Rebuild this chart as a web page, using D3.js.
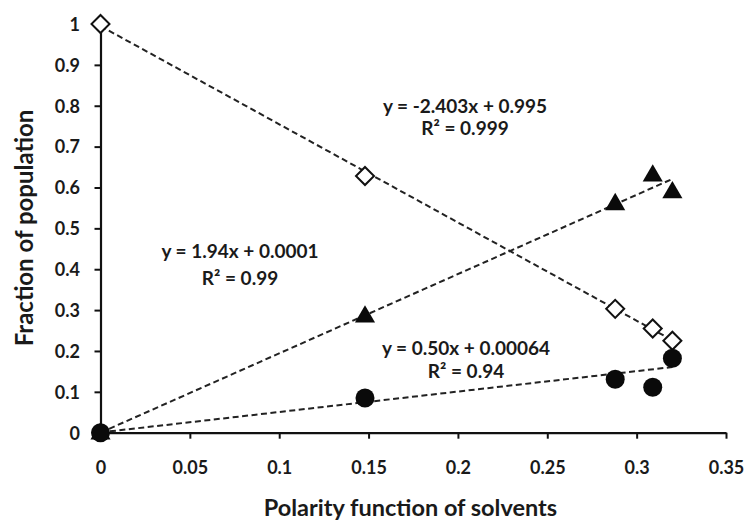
<!DOCTYPE html>
<html>
<head>
<meta charset="utf-8">
<script src="https://cdn.jsdelivr.net/npm/d3@7/dist/d3.min.js"></script>
<style>
  html, body { margin: 0; padding: 0; background: #ffffff; }
  svg { display: block; }
  text { font-family: Lato, "Open Sans", sans-serif; font-weight: bold; fill: #1a1a1a; }
</style>
</head>
<body>
<svg id="chart" width="744" height="521"></svg>
<script>
// ---- Data ----
const polarity = [0, 0.148, 0.288, 0.309, 0.320];
const diamondSeries = [1.0, 0.628, 0.303, 0.255, 0.225];
const triangleSeries = [0.0, 0.286, 0.561, 0.631, 0.590];
const circleSeries = [0.0, 0.085, 0.131, 0.111, 0.182];

const trendSlopes = [-2.403, 1.94, 0.50];
const trendIntercepts = [0.995, 0.0001, 0.00064];
const trendRange = [0, 0.32];

const eqLines = ["y = -2.403x + 0.995", "y = 1.94x + 0.0001", "y = 0.50x + 0.00064"];
const r2Lines = ["0.999", "0.99", "0.94"];

const xTicks = [0, 0.05, 0.1, 0.15, 0.2, 0.25, 0.3, 0.35];
const yTicks = [0, 0.1, 0.2, 0.3, 0.4, 0.5, 0.6, 0.7, 0.8, 0.9, 1];

const xTitle = "Polarity function of solvents";
const yTitle = "Fraction of population";

// ---- Layout ----
const svg = d3.select("#chart");
const x = d3.scaleLinear().domain([0, 0.35]).range([100.5, 726]);
const y = d3.scaleLinear().domain([0, 1]).range([432.7, 24]);

// Axes
const fmt = d => d === 0 ? "0" : String(d);
const xAxis = d3.axisBottom(x).tickValues(xTicks).tickSize(6).tickSizeOuter(0).tickFormat(fmt);
const yAxis = d3.axisLeft(y).tickValues(yTicks).tickSize(6).tickSizeOuter(0).tickFormat(fmt);

const gx = svg.append("g").attr("transform", `translate(0,${y(0)})`).call(xAxis);
const gy = svg.append("g").attr("transform", `translate(${x(0)},0)`).call(yAxis);

[gx, gy].forEach(g => {
  g.select(".domain").attr("stroke", "#111").attr("stroke-width", 2.2);
  g.selectAll(".tick line").attr("stroke", "#111").attr("stroke-width", 2);
  g.selectAll(".tick text").style("font-family", "Lato, 'Open Sans', sans-serif")
    .style("font-weight", "bold").style("font-size", "18px").attr("fill", "#222");
});
gx.selectAll(".tick text").attr("dy", null).attr("y", 41.8);
gy.selectAll(".tick text").attr("x", -20.5).attr("dy", "0.35em");

// Trend lines
const trendG = svg.append("g");
trendSlopes.forEach((m, i) => {
  const b = trendIntercepts[i];
  trendG.append("line")
    .attr("x1", x(trendRange[0])).attr("y1", y(m * trendRange[0] + b))
    .attr("x2", x(trendRange[1])).attr("y2", y(m * trendRange[1] + b))
    .attr("stroke", "#222").attr("stroke-width", 2)
    .attr("stroke-dasharray", "6,3.5");
});

// Markers
const diamondPath = d3.symbol().type(d3.symbolSquare).size(162)();
svg.append("g").selectAll("path").data(polarity).join("path")
  .attr("d", diamondPath)
  .attr("transform", (d, i) => `translate(${x(d)},${y(diamondSeries[i])}) rotate(45)`)
  .attr("fill", "#fff").attr("stroke", "#111").attr("stroke-width", 2);

svg.append("g").selectAll("path").data(polarity).join("path")
  .attr("d", d3.symbol().type(d3.symbolTriangle).size(175)())
  .attr("transform", (d, i) => `translate(${x(d)},${y(triangleSeries[i]) + 1})`)
  .attr("fill", "#0a0a0a");

svg.append("g").selectAll("circle").data(polarity).join("circle")
  .attr("cx", d => x(d)).attr("cy", (d, i) => y(circleSeries[i]))
  .attr("r", 9.5).attr("fill", "#0a0a0a");

// Equation annotations
const eqPos = [
  { cx: 465, y1: 113, y2: 135 },
  { cx: 240, y1: 258, y2: 285 },
  { cx: 466, y1: 355, y2: 378 }
];
eqPos.forEach((p, i) => {
  svg.append("text").attr("x", p.cx).attr("y", p.y1).attr("text-anchor", "middle")
    .style("font-size", "19px").text(eqLines[i]);
  svg.append("text").attr("x", p.cx).attr("y", p.y2).attr("text-anchor", "middle")
    .style("font-size", "19px").text("R² = " + r2Lines[i]);
});

// Axis titles
svg.append("text").attr("x", 410.5).attr("y", 515.5).attr("text-anchor", "middle")
  .style("font-size", "23.5px").attr("fill", "#111").text(xTitle);
svg.append("text").attr("transform", "translate(33,228) rotate(-90)")
  .attr("text-anchor", "middle").style("font-size", "24px").attr("fill", "#111").text(yTitle);
</script>
</body>
</html>
